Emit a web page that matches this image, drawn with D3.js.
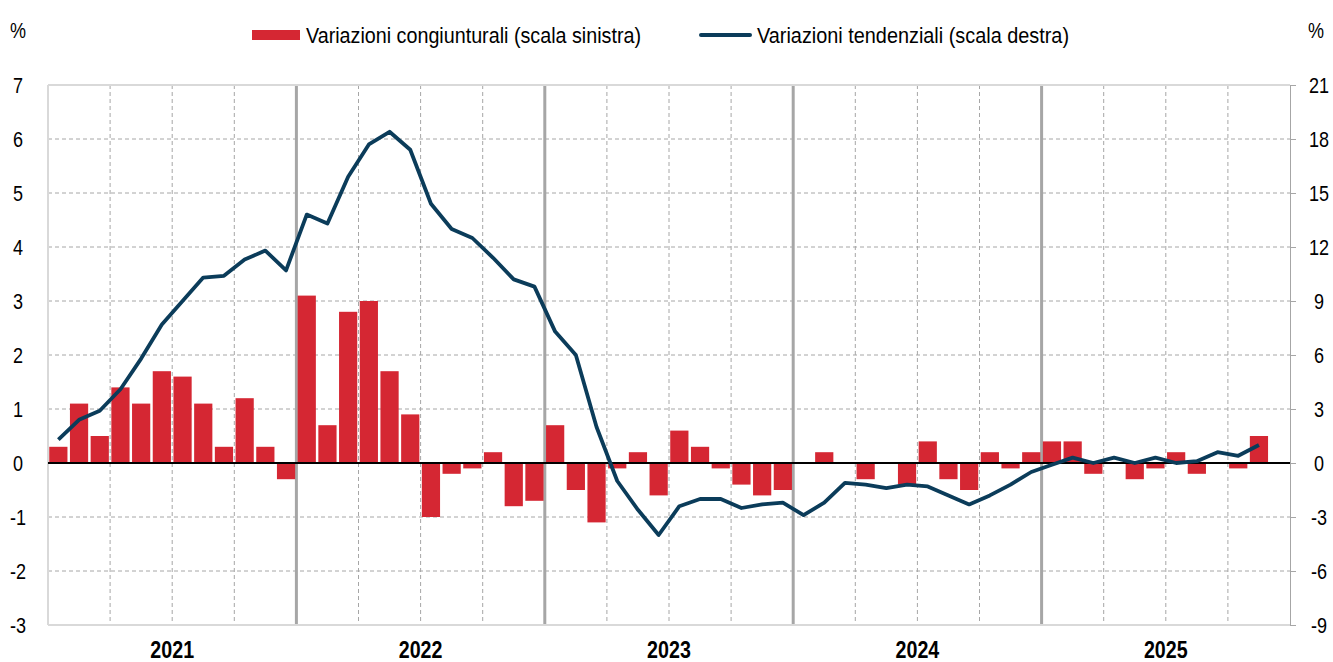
<!DOCTYPE html>
<meta charset="utf-8">
<script src="https://d3js.org/d3.v7.min.js"></script>
<style>
  body { margin: 0; background: #fff; }
  text { font-family: "Liberation Sans", Arial, sans-serif; fill: #000; }
</style>
<body>
<script type="text/javascript">

// month labels Jan 2021 .. Dec 2025
var years = ["2021", "2022", "2023", "2024", "2025"];
var months = [];
years.forEach(function(y) { for (var m = 1; m <= 12; m++) months.push(y + "-" + (m < 10 ? "0" + m : m)); });

// variazioni congiunturali (left scale), Jan 2021 .. Nov 2025
var congiunturali = [
  0.3, 1.1, 0.5, 1.4, 1.1, 1.7, 1.6, 1.1, 0.3, 1.2, 0.3, -0.3,
  3.1, 0.7, 2.8, 3.0, 1.7, 0.9, -1.0, -0.2, -0.1, 0.2, -0.8, -0.7,
  0.7, -0.5, -1.1, -0.1, 0.2, -0.6, 0.6, 0.3, -0.1, -0.4, -0.6, -0.5,
  0.0, 0.2, 0.0, -0.3, 0.0, -0.4, 0.4, -0.3, -0.5, 0.2, -0.1, 0.2,
  0.4, 0.4, -0.2, 0.0, -0.3, -0.1, 0.2, -0.2, 0.0, -0.1, 0.5
];

// variazioni tendenziali (right scale), Jan 2021 .. Nov 2025
var tendenziali = [
  1.3, 2.4, 2.9, 4.1, 5.8, 7.7, 9.0, 10.3, 10.4, 11.3, 11.8, 10.7,
  13.8, 13.3, 15.9, 17.7, 18.4, 17.4, 14.4, 13.0, 12.5, 11.4, 10.2, 9.8,
  7.3, 6.0, 2.0, -1.0, -2.6, -4.0, -2.4, -2.0, -2.0, -2.5, -2.3, -2.2,
  -2.9, -2.2, -1.1, -1.2, -1.4, -1.2, -1.3, -1.8, -2.3, -1.8, -1.2, -0.5,
  -0.1, 0.3, 0.0, 0.3, 0.0, 0.3, 0.0, 0.1, 0.6, 0.4, 1.0
];

var leftTicks = [-3, -2, -1, 0, 1, 2, 3, 4, 5, 6, 7];
var rightTicks = [-9, -6, -3, 0, 3, 6, 9, 12, 15, 18, 21];

var W = 1333, H = 662;
var plot = {left: 48, right: 1290, top: 85, bottom: 625};

var svg = d3.select("body").append("svg")
    .attr("width", W)
    .attr("height", H);

var x = d3.scaleBand()
    .domain(months)
    .range([plot.left, plot.right])
    .paddingInner(0.12)
    .paddingOuter(0.06);
var step = x.step();

var yL = d3.scaleLinear().domain([-3, 7]).range([plot.bottom, plot.top]);
var yR = d3.scaleLinear().domain([-9, 21]).range([plot.bottom, plot.top]);

// monthly edge position
function edge(i) { return plot.left + i * (plot.right - plot.left) / months.length; }

// narrow text (Arial Narrow look)
function label(sel, px, py, txt, size, anchor, bold) {
  return sel.append("text")
    .attr("transform", "translate(" + px + "," + py + ") scale(0.82,1)")
    .attr("text-anchor", anchor || "start")
    .style("font-size", size + "px")
    .style("font-weight", bold ? "bold" : "normal")
    .text(txt);
}

// horizontal dashed grid
svg.append("g")
  .selectAll("line")
  .data(leftTicks.filter(function(d) { return d != 0 && d != -3 && d != 7; }))
  .enter().append("line")
    .attr("x1", plot.left).attr("x2", plot.right)
    .attr("y1", function(d) { return yL(d); })
    .attr("y2", function(d) { return yL(d); })
    .attr("stroke", "#a6a6a6")
    .attr("stroke-width", 1)
    .attr("stroke-dasharray", "4,3");

// vertical quarter lines (dashed) and year lines (solid)
var qIdx = d3.range(3, months.length, 3);
svg.append("g")
  .selectAll("line")
  .data(qIdx)
  .enter().append("line")
    .attr("x1", function(d) { return edge(d); })
    .attr("x2", function(d) { return edge(d); })
    .attr("y1", plot.top).attr("y2", plot.bottom)
    .attr("stroke", "#a6a6a6")
    .attr("stroke-width", function(d) { return d % 12 == 0 ? 3 : 1; })
    .attr("stroke-dasharray", function(d) { return d % 12 == 0 ? null : "4,3"; });

// frame (light)
svg.append("line").attr("x1", plot.left).attr("x2", plot.right).attr("y1", plot.top).attr("y2", plot.top)
  .attr("stroke", "#d9d9d9").attr("stroke-width", 2);
svg.append("line").attr("x1", plot.left).attr("x2", plot.right).attr("y1", plot.bottom).attr("y2", plot.bottom)
  .attr("stroke", "#d9d9d9").attr("stroke-width", 2);
svg.append("line").attr("x1", plot.left).attr("x2", plot.left).attr("y1", plot.top).attr("y2", plot.bottom)
  .attr("stroke", "#d9d9d9").attr("stroke-width", 2);

// bars
svg.append("g")
  .selectAll("rect")
  .data(congiunturali)
  .enter().append("rect")
    .attr("x", function(d, i) { return x(months[i]); })
    .attr("width", x.bandwidth())
    .attr("y", function(d) { return yL(Math.max(0, d)); })
    .attr("height", function(d) { return Math.abs(yL(d) - yL(0)); })
    .attr("fill", "#d52733");

// zero line
svg.append("line")
  .attr("x1", plot.left).attr("x2", plot.right)
  .attr("y1", yL(0)).attr("y2", yL(0))
  .attr("stroke", "#000").attr("stroke-width", 2);

// line
var line = d3.line()
  .x(function(d, i) { return edge(i) + step / 2; })
  .y(function(d) { return yR(d); });
svg.append("path")
  .datum(tendenziali)
  .attr("d", line)
  .attr("fill", "none")
  .attr("stroke", "#0b3c5a")
  .attr("stroke-width", 3.8)
  .attr("stroke-linejoin", "round");

// right axis
var rAxis = svg.append("g")
  .attr("transform", "translate(" + plot.right + ",0)")
  .call(d3.axisRight(yR).tickValues(rightTicks).tickSize(6).tickFormat(""));
rAxis.select(".domain").attr("stroke", "#a6a6a6");
rAxis.selectAll(".tick line").attr("stroke", "#a6a6a6");

// tick labels
var gl = svg.append("g");
leftTicks.forEach(function(d) { label(gl, 18, yL(d) + 8, d, 22, "middle"); });
var gr = svg.append("g");
rightTicks.forEach(function(d) { label(gr, 1319, yR(d) + 8, d, 22, "middle"); });

// year labels
var gy = svg.append("g");
years.forEach(function(d, i) { label(gy, edge(i * 12 + 6), 658, d, 24, "middle", true); });

// % labels
label(svg, 18, 38, "%", 22, "middle");
label(svg, 1316, 38, "%", 22, "middle");

// legend
svg.append("rect").attr("x", 252).attr("y", 30).attr("width", 48).attr("height", 10).attr("fill", "#d52733");
svg.append("text").attr("x", 306).attr("y", 43).style("font-size", "22px")
  .attr("textLength", 335).attr("lengthAdjust", "spacingAndGlyphs")
  .text("Variazioni congiunturali (scala sinistra)");
svg.append("line").attr("x1", 701).attr("x2", 750).attr("y1", 35).attr("y2", 35)
  .attr("stroke", "#0b3c5a").attr("stroke-width", 4).attr("stroke-linecap", "round");
svg.append("text").attr("x", 757).attr("y", 43).style("font-size", "22px")
  .attr("textLength", 312).attr("lengthAdjust", "spacingAndGlyphs")
  .text("Variazioni tendenziali (scala destra)");

</script>
</body>
